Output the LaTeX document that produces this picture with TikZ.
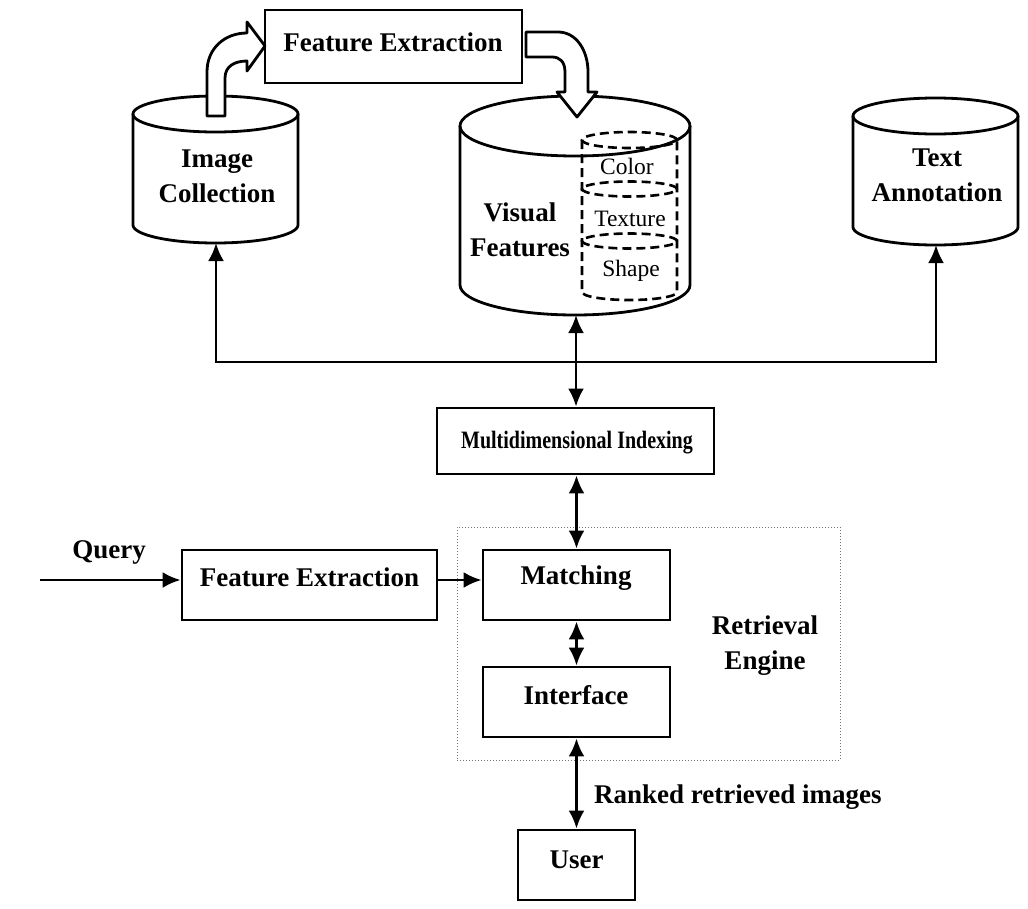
\documentclass[tikz,border=0pt]{standalone}
\usepackage{fontspec}
\setmainfont{Liberation Serif}
\usetikzlibrary{arrows.meta}
\begin{document}
\begin{tikzpicture}[x=1pt,y=-1pt,
  every node/.style={font=\fontsize{27}{35}\selectfont\bfseries, inner sep=0pt, align=center},
  boxnode/.style={draw, line width=2.8pt, fill=white},
  cylline/.style={line width=2.8pt},
  hollow/.style={line width=2.8pt, fill=white, line join=round},
  dashcyl/.style={line width=2.6pt, dash pattern=on 9pt off 5pt},
  smalltext/.style={font=\fontsize{23.5}{28}\selectfont\mdseries},
  rebox/.style={draw=black!55, line width=1pt, dotted},
  arr/.style={line width=2.8pt, -{Latex[length=18pt,width=16pt]}},
  darr/.style={line width=2.8pt, {Latex[length=18pt,width=16pt]}-{Latex[length=18pt,width=16pt]}}
]
\useasboundingbox (0,0) rectangle (1028,908);
\fill[white] (0,0) rectangle (1028,908);

% ---------- Image Collection cylinder
\draw[cylline] (133,114) -- (133,225) arc[start angle=180,end angle=360,x radius=82.5pt,y radius=18pt] -- (298,114);
\draw[cylline] (215.5,114) ellipse [x radius=82.5pt, y radius=18pt];
\node (ictext) at (217,176) {Image\\Collection};
\coordinate (icb) at (216,243);

% ---------- Text Annotation cylinder
\draw[cylline] (853,116) -- (853,227) arc[start angle=180,end angle=360,x radius=82.5pt,y radius=18pt] -- (1018,116);
\draw[cylline] (935.5,116) ellipse [x radius=82.5pt, y radius=18pt];
\node (tatext) at (937,175) {Text\\Annotation};
\coordinate (tab) at (936,245);

% ---------- Visual Features cylinder
\draw[cylline] (460,126) -- (460,285) arc[start angle=180,end angle=360,x radius=115pt,y radius=30pt] -- (690,126);
\draw[cylline] (575,126) ellipse [x radius=115pt, y radius=30pt];
\node (vftext) at (520,230) {Visual\\Features};
\coordinate (vfb) at (576,315);

% inner dashed cylinder
\draw[dashcyl] (582,140) -- (582,292) arc[start angle=180,end angle=360,x radius=47.5pt,y radius=8pt] -- (677,140);
\draw[dashcyl] (629.5,140) ellipse [x radius=47.5pt, y radius=8pt];
\draw[dashcyl] (629.5,189) ellipse [x radius=47.5pt, y radius=7.5pt];
\draw[dashcyl] (629.5,241) ellipse [x radius=47.5pt, y radius=7.5pt];
\node[smalltext] (color) at (627,166) {Color};
\node[smalltext] (texture) at (630,219) {Texture};
\node[smalltext] (shape) at (631,271) {Shape};

% ---------- Top Feature Extraction box
\node[boxnode, minimum width=257pt, minimum height=73pt] (fetop) at (393.5,46.5) {};
\node (fetoptext) at (393,42) {Feature Extraction};

% hollow arrow: Image Collection -> Feature Extraction
\draw[hollow] (207,116) -- (207,72) .. controls (207,48) and (225,33) .. (247,33)
  -- (247,22) -- (265,46) -- (247,71) -- (247,61)
  .. controls (235,61) and (225,66) .. (225,78) -- (225,116) -- cycle;

% hollow arrow: Feature Extraction -> Visual Features
\draw[hollow] (526,32) -- (558,32) .. controls (576,32) and (588,50) .. (588,72)
  -- (588,92) -- (597,92) -- (577,117) -- (557,92) -- (565,92) -- (565,72)
  .. controls (565,62) and (560,57) .. (552,57) -- (526,57) -- cycle;

% ---------- Multidimensional Indexing
\node[boxnode, minimum width=277pt, minimum height=66pt] (mdi) at (575.5,441) {};
\node[font=\fontsize{25}{30}\selectfont\bfseries] (mditext) at (577,443) {\scalebox{0.8}[1]{Multidimensional Indexing}};

% ---------- Retrieval engine
\node[rebox, minimum width=383pt, minimum height=233pt] (reng) at (648.5,643.5) {};
\node (retext) at (765,646) {Retrieval\\Engine};
\node[boxnode, minimum width=187pt, minimum height=70pt] (match) at (576.5,585) {};
\node (matchtext) at (576,578) {Matching};
\node[boxnode, minimum width=187pt, minimum height=70pt] (iface) at (576.5,702) {};
\node (ifacetext) at (576,695) {Interface};

% ---------- Query feature extraction
\node[boxnode, minimum width=255pt, minimum height=70pt] (qfe) at (309.5,585) {};
\node (qfetext) at (309.5,577) {Feature Extraction};
\node (qlbl) at (109,552) {Query};
\coordinate (qstart) at (40,580);

% ---------- User
\node[boxnode, minimum width=117pt, minimum height=70pt] (user) at (576.5,865) {};
\node (usertext) at (576.5,860) {User};
\node[anchor=west] (rank) at (594,797) {Ranked retrieved images};

% ---------- connectors
\coordinate (jn) at (576,362);
\draw[arr] (jn) -| (icb);
\draw[arr] (jn) -| (tab);
\draw[darr] (vfb) -- (vfb |- mdi.north);
\draw[darr] (match.north |- mdi.south) -- (match.north);
\draw[arr] (qstart) -- (qstart -| qfe.west);
\draw[arr] ([yshift=5pt]qfe.east) -- ([yshift=5pt]match.west);
\draw[darr] (match.south) -- (iface.north);
\draw[darr] (iface.south) -- (user.north);
\end{tikzpicture}
\end{document}
